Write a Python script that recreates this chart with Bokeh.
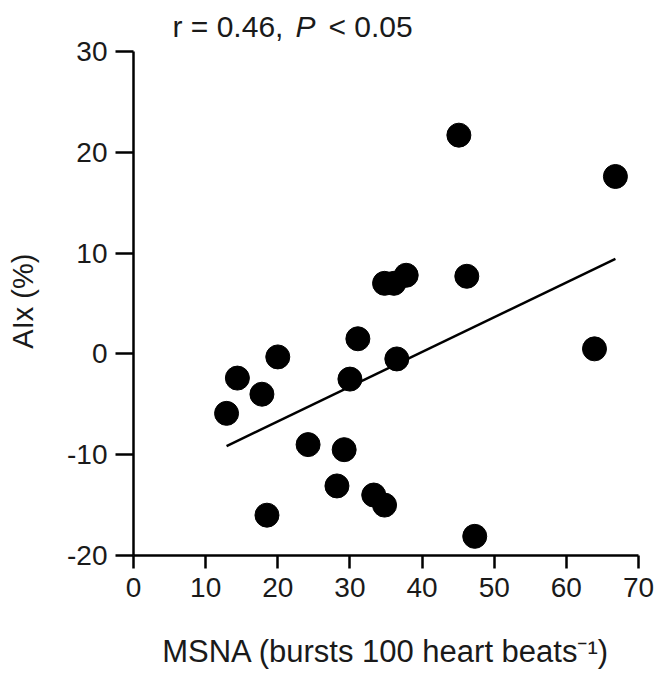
from bokeh.plotting import figure
from bokeh.models import Range1d, FixedTicker, Label, ColumnDataSource
from bokeh.embed import file_html
from bokeh.resources import INLINE

# Data
msna = [45.1, 66.8, 34.8, 36.1, 37.8, 46.2, 31.1, 36.5, 63.9, 20.0, 14.4,
        17.8, 12.9, 30.0, 24.2, 29.2, 28.2, 33.3, 34.8, 18.5, 47.3]
aix = [21.7, 17.6, 7.0, 7.0, 7.8, 7.7, 1.5, -0.5, 0.5, -0.3, -2.4,
       -4.0, -5.9, -2.5, -9.0, -9.5, -13.1, -14.0, -15.0, -16.0, -18.1]
fit_x = [12.9, 66.8]
fit_y = [-9.15, 9.43]
x_ticks = [0, 10, 20, 30, 40, 50, 60, 70]
y_ticks = [-20, -10, 0, 10, 20, 30]
y_tick_labels = {t: str(t) for t in y_ticks}

FONT = "Liberation Sans"
TXT = "#1a1a1a"
NBSP = "\u00a0"

# frame extends a little above 30 so the annotation text sits inside it;
# the visible axis line is limited to -20..30 with bounds
p = figure(width=658, height=675, output_backend="svg", toolbar_location=None,
           x_range=Range1d(0, 70), y_range=Range1d(-20, 33.67),
           min_border_left=133, min_border_top=14, min_border_right=20,
           min_border_bottom=120)
p.outline_line_color = None
p.grid.visible = False
p.background_fill_color = "white"

src = ColumnDataSource(dict(x=msna, y=aix))
p.line(fit_x, fit_y, line_color="black", line_width=2.5)
p.scatter("x", "y", source=src, size=24, fill_color="black", line_color="black")

for ax in (p.xaxis[0], p.yaxis[0]):
    ax.axis_line_width = 2.5
    ax.axis_line_color = "black"
    ax.major_tick_line_width = 2.5
    ax.major_tick_line_color = "black"
    ax.minor_tick_line_color = None
    ax.major_tick_in = 0
    ax.major_label_text_font = FONT
    ax.major_label_text_font_size = "28px"
    ax.major_label_text_color = TXT
    ax.axis_label_text_font = FONT
    ax.axis_label_text_font_style = "normal"
    ax.axis_label_text_color = TXT

p.yaxis.bounds = (y_ticks[0], y_ticks[-1])
p.xaxis.ticker = FixedTicker(ticks=x_ticks)
p.yaxis.ticker = FixedTicker(ticks=y_ticks)
p.yaxis.major_label_overrides = y_tick_labels
p.xaxis.major_tick_out = 13
p.yaxis.major_tick_out = 18
p.xaxis.major_label_standoff = 9
p.yaxis.major_label_standoff = 8
p.xaxis.axis_label = "MSNA (bursts 100 heart beats\u207b\u00b9)"
p.xaxis.axis_label_text_font_size = "31px"
p.xaxis.axis_label_standoff = 34
# trailing no-break spaces centre the visible label on the -20..30 span
p.yaxis.axis_label = "AIx (%)" + NBSP * 4
p.yaxis.axis_label_text_font_size = "29px"
p.yaxis.axis_label_standoff = 25

common = dict(x=0, y=30, x_units="data", y_units="data", y_offset=25,
              text_font=FONT, text_font_size="30px", text_color=TXT,
              text_baseline="alphabetic", text_align="left")
p.add_layout(Label(text="r = 0.46,", x_offset=39, **common))
p.add_layout(Label(text="P", x_offset=39 + 123, text_font_style="italic", **common))
p.add_layout(Label(text="< 0.05", x_offset=39 + 156, **common))

open("out.html", "w").write(file_html(p, INLINE))
